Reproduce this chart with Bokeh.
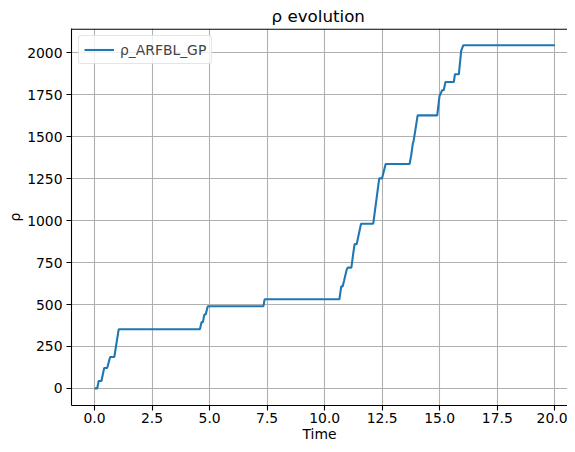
from bokeh.plotting import figure
from bokeh.models import Range1d, FixedTicker, Span
from bokeh.embed import file_html
from bokeh.resources import INLINE

# ---- data ----
time = [0.0, 0.12, 0.18, 0.30, 0.42, 0.55, 0.68, 0.86, 1.05,
        4.58, 4.65, 4.71, 4.77, 4.83, 4.92,
        7.34, 7.39,
        10.64, 10.72, 10.78, 10.84, 10.88, 10.95, 11.00, 11.16, 11.24, 11.30, 11.39, 11.58,
        12.11, 12.37, 12.49, 12.65,
        13.69, 13.76, 13.83, 13.87, 14.04,
        14.89, 14.99, 15.05, 15.10, 15.17, 15.25, 15.61, 15.66, 15.83, 15.93, 16.02,
        20.0]
rho = [0, 0, 44, 44, 121, 121, 187, 187, 352,
       352, 395, 395, 440, 440, 490,
       490, 531,
       531, 608, 608, 640, 664, 705, 720, 720, 803, 860, 860, 982,
       982, 1252, 1252, 1338,
       1338, 1390, 1460, 1480, 1628,
       1628, 1744, 1760, 1778, 1778, 1827, 1827, 1873, 1873, 2012, 2046,
       2046]

x_ticks = [0, 2.5, 5, 7.5, 10, 12.5, 15, 17.5, 20]
x_tick_labels = ["0.0", "2.5", "5.0", "7.5", "10.0", "12.5", "15.0", "17.5", "20.0"]
y_ticks = [0, 250, 500, 750, 1000, 1250, 1500, 1750, 2000]
y_tick_labels = ["0", "250", "500", "750", "1000", "1250", "1500", "1750", "2000"]

title_text = "ρ evolution"
x_label = "Time"
y_label = "ρ"
series_name = "ρ_ARFBL_GP"

FONT = "DejaVu Sans"
LINE_COLOR = "#1f77b4"
GRID_COLOR = "#b0b0b0"
Y_START, Y_END = -102.3, 2146.0

p = figure(width=567, height=444, output_backend="svg", toolbar_location=None,
           x_range=Range1d(-1.0, 20.55), y_range=Range1d(Y_START, Y_END),
           min_border_left=71, min_border_right=0, min_border_top=28, min_border_bottom=39)

p.line(time, rho, line_color=LINE_COLOR, line_width=2.1, legend_label=series_name)

p.background_fill_color = "white"
p.border_fill_color = "white"
p.outline_line_color = None

# title
p.title.text = title_text
p.title.align = "left"
p.title.offset = 200
p.title.standoff = 2
p.title.vertical_align = "top"
p.title.text_font = FONT
p.title.text_font_size = "16.7px"
p.title.text_font_style = "normal"
p.title.text_color = "black"

# grid
for g in (p.xgrid, p.ygrid):
    g.grid_line_color = GRID_COLOR
    g.grid_line_width = 1.1

# axes
p.xaxis.ticker = FixedTicker(ticks=x_ticks)
p.xaxis.major_label_overrides = {t: l for t, l in zip(x_ticks, x_tick_labels)}
p.yaxis.ticker = FixedTicker(ticks=y_ticks)
p.yaxis.major_label_overrides = {t: l for t, l in zip(y_ticks, y_tick_labels)}

for ax in (p.xaxis, p.yaxis):
    ax.axis_line_color = "black"
    ax.axis_line_width = 1.1
    ax.major_tick_line_color = "black"
    ax.major_tick_line_width = 1.1
    ax.major_tick_out = 5
    ax.major_tick_in = 0
    ax.minor_tick_line_color = None
    ax.major_label_text_font = FONT
    ax.major_label_text_font_size = "13.9px"
    ax.major_label_text_color = "black"
    ax.axis_label_text_font = FONT
    ax.axis_label_text_font_size = "13.9px"
    ax.axis_label_text_font_style = "normal"
    ax.axis_label_text_color = "black"

p.xaxis.axis_label = x_label
p.yaxis.axis_label = y_label
p.xaxis.major_label_standoff = 2
p.xaxis.axis_label_standoff = 0
p.yaxis.major_label_standoff = 4
p.yaxis.axis_label_standoff = 1

# top spine (kept just inside the frame)
p.add_layout(Span(location=Y_END - 3.5, dimension="width", line_color="black", line_width=1.1))

# legend
lg = p.legend[0]
lg.location = "top_left"
lg.margin = 7
lg.padding = 5
lg.spacing = 0
lg.glyph_width = 30
lg.glyph_height = 17
lg.label_height = 17
lg.label_standoff = 6
lg.label_text_font = FONT
lg.label_text_font_size = "13.9px"
lg.border_line_color = "#cccccc"
lg.border_line_width = 1
lg.background_fill_color = "white"
lg.background_fill_alpha = 0.8
if "border_radius" in lg.properties():
    lg.border_radius = 3

open("out.html", "w").write(file_html(p, INLINE))
